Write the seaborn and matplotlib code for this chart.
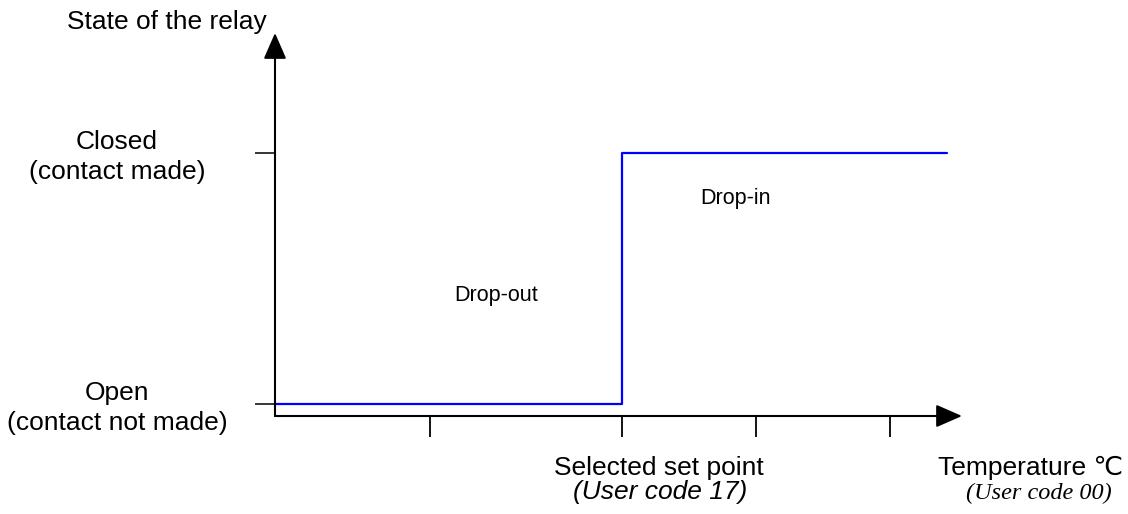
import numpy as np
import matplotlib.pyplot as plt
import seaborn as sns

# relay characteristic (arbitrary temperature units)
temp = [0.0, 5.05, 9.78]
state = [0, 1, 1]
temp_ticks = [2.25, 5.05, 7.0, 8.95]
state_ticks = [0, 1]
state_labels = ['Open\n(contact not made)', 'Closed\n(contact made)']

sns.set_style('white')
plt.rcParams['font.family'] = ['Liberation Sans', 'DejaVu Sans']
plt.rcParams['text.color'] = 'black'
plt.rcParams['ytick.color'] = 'black'
plt.rcParams['xtick.color'] = 'black'

fig = plt.figure(figsize=(11.28, 5.14), dpi=100)
ax = fig.add_axes([275 / 1128, 98 / 514, 687 / 1128, 383 / 514])

sns.lineplot(x=temp, y=state, drawstyle='steps-post', color='#0000ff', lw=1.6, ax=ax)

ax.set_xlim(0, 10)
ax.set_ylim(-12 / 251, 371 / 251)

for s in ax.spines.values():
    s.set_visible(False)

# axes with arrow heads
arrow = dict(arrowstyle='-|>,head_length=1.6,head_width=0.7', color='black', lw=1.5,
             shrinkA=0, shrinkB=0)
ax.annotate('', xy=(1, 0), xytext=(0, 0), xycoords='axes fraction',
            textcoords='axes fraction', arrowprops=arrow)
ax.annotate('', xy=(0, 1), xytext=(0, 0), xycoords='axes fraction',
            textcoords='axes fraction', arrowprops=arrow)

ax.set_xticks(temp_ticks)
ax.set_xticklabels([])
ax.tick_params(axis='x', bottom=True, direction='out', length=15, width=1.3, color='black')

ax.set_yticks(state_ticks)
ax.set_yticklabels([])
ax.tick_params(axis='y', left=True, direction='out', length=14.4, width=1.1, color='black')

# state labels, centred left of the ticks
for yv, lab in zip(state_ticks, state_labels):
    ax.text(-2.3, yv - 0.015, lab, fontsize=19, ha='center', va='center',
            linespacing=1.3, clip_on=False)

ax.text(-1.57, 1.522, 'State of the relay', fontsize=19, ha='center', va='center')
ax.text(6.70, 0.817, 'Drop-in', fontsize=15.5, ha='center', va='center')
ax.text(3.22, 0.434, 'Drop-out', fontsize=15.5, ha='center', va='center')

ax.text(5.59, -0.255, 'Selected set point', fontsize=19, ha='center', va='center')
ax.text(5.60, -0.352, '(User code 17)', fontsize=19, style='italic', ha='center', va='center')
ax.text(11.0, -0.255, 'Temperature \u2103', fontsize=19, ha='center', va='center')
ax.text(11.12, -0.358, '(User code 00)', fontsize=17.5, style='italic',
        family=['Liberation Serif', 'DejaVu Serif'], ha='center', va='center')

fig.savefig('out.png', dpi=100, facecolor='white')
